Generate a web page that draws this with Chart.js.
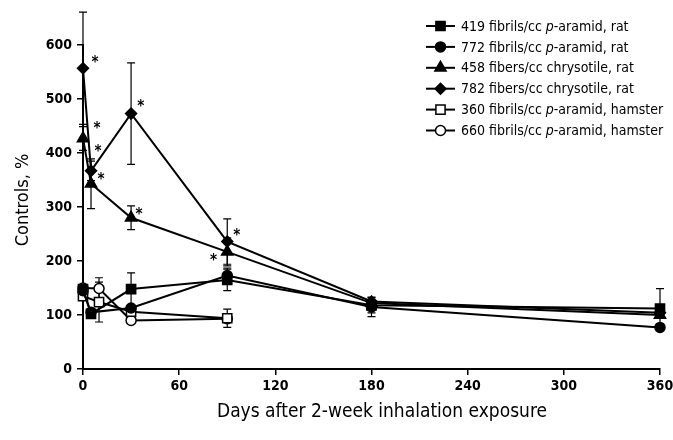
<!DOCTYPE html>
<html>
<head>
<meta charset="utf-8">
<script src="https://cdn.jsdelivr.net/npm/chart.js@4.4.1/dist/chart.umd.min.js"></script>
<style>
  html, body { margin: 0; padding: 0; background: #fff; }
  #wrap { width: 673px; height: 440px; position: relative; }
</style>
</head>
<body>
<div id="wrap"><canvas id="chart"></canvas></div>
<script>
const FONT = "'Liberation Sans Narrow', 'DejaVu Sans Condensed', 'Arial Narrow', sans-serif";

// time points (days after exposure)
const ratDays = [0, 5, 30, 90, 180, 360];
const hamsterDays = [0, 10, 30, 90];
const xTicks = [0, 60, 120, 180, 240, 300, 360];
const yTicks = [0, 100, 200, 300, 400, 500, 600];

// series values (% of controls)
const aramid419Rat = [148, 102, 148, 165, 118, 112];
const aramid772Rat = [145, 105, 113, 173, 115, 77];
const chrys458Rat = [427, 343, 280, 217, 122, 100];
const chrys782Rat = [557, 367, 473, 236, 125, 104];
const aramid360Ham = [135, 124, 106, 94];
const aramid660Ham = [150, 149, 90, 93];

// error bars (half widths), null = not shown
const aramid419RatErr = [null, null, 30, 20, 14, 37];
const aramid772RatErr = [null, null, null, 14, 18, null];
const chrys458RatErr = [22, 46, 22, 26, null, null];
const chrys782RatErr = [104, 18, 94, 42, null, null];
const aramid360HamErr = [null, 37, null, 17];
const aramid660HamErr = [null, 20, null, null];

const labels = [
  ['419 fibrils/cc ', 'p', '-aramid, rat'],
  ['772 fibrils/cc ', 'p', '-aramid, rat'],
  ['458 fibers/cc chrysotile, rat', '', ''],
  ['782 fibers/cc chrysotile, rat', '', ''],
  ['360 fibrils/cc ', 'p', '-aramid, hamster'],
  ['660 fibrils/cc ', 'p', '-aramid, hamster']
];
const xTitle = 'Days after 2-week inhalation exposure';
const yTitle = 'Controls, %';

// significance marks [day, value]
const asterisks = [[7.5, 572], [8.7, 450], [9.3, 407], [11.2, 355], [36, 491], [35, 291], [96, 252], [81.5, 206]];

function series(label, days, vals, errs, style, radius, fill) {
  return {
    label: label.join(''),
    data: days.map((d, i) => ({ x: d, y: vals[i] })),
    errors: errs,
    borderColor: '#000',
    borderWidth: 2,
    pointStyle: style,
    pointRadius: radius,
    pointBackgroundColor: fill,
    pointBorderColor: '#000',
    pointBorderWidth: 1.5,
    tension: 0,
    clip: false
  };
}

const datasets = [
  series(labels[0], ratDays, aramid419Rat, aramid419RatErr, 'rect', 6.5, '#000'),
  series(labels[1], ratDays, aramid772Rat, aramid772RatErr, 'circle', 5, '#000'),
  series(labels[2], ratDays, chrys458Rat, chrys458RatErr, 'triangle', 6.5, '#000'),
  series(labels[3], ratDays, chrys782Rat, chrys782RatErr, 'rectRot', 5.5, '#000'),
  series(labels[4], hamsterDays, aramid360Ham, aramid360HamErr, 'rect', 6.5, '#fff'),
  series(labels[5], hamsterDays, aramid660Ham, aramid660HamErr, 'circle', 5, '#fff')
];

const errorBars = {
  id: 'errorBars',
  beforeDatasetsDraw(chart) {
    const { ctx, scales: { x, y } } = chart;
    ctx.save();
    ctx.strokeStyle = '#000';
    ctx.lineWidth = 1.2;
    chart.data.datasets.forEach(ds => {
      ds.data.forEach((p, i) => {
        const e = ds.errors[i];
        if (e == null) return;
        const px = x.getPixelForValue(p.x);
        const top = y.getPixelForValue(p.y + e);
        const bot = y.getPixelForValue(p.y - e);
        ctx.beginPath();
        ctx.moveTo(px, top); ctx.lineTo(px, bot);
        ctx.moveTo(px - 4, top); ctx.lineTo(px + 4, top);
        ctx.moveTo(px - 4, bot); ctx.lineTo(px + 4, bot);
        ctx.stroke();
      });
    });
    ctx.restore();
  },
  afterDatasetsDraw(chart) {
    const { ctx, scales: { x, y } } = chart;
    ctx.save();
    ctx.fillStyle = '#000';
    ctx.font = 'bold 15px ' + FONT;
    ctx.textAlign = 'center';
    ctx.textBaseline = 'middle';
    asterisks.forEach(([d, v]) => {
      ctx.fillText('*', x.getPixelForValue(d), y.getPixelForValue(v) + 3);
    });
    ctx.restore();
  }
};

// axis titles and legend, drawn on the canvas
const annotations = {
  id: 'annotations',
  afterDraw(chart) {
    const ctx = chart.ctx;
    ctx.save();
    ctx.fillStyle = '#000';
    ctx.textAlign = 'center';
    ctx.textBaseline = 'middle';
    ctx.font = '19px ' + FONT;
    ctx.fillText(xTitle, 382, 412);
    ctx.translate(23, 200);
    ctx.rotate(-Math.PI / 2);
    ctx.font = '18px ' + FONT;
    ctx.fillText(yTitle, 0, 0);
    ctx.restore();

    ctx.save();
    chart.data.datasets.forEach((ds, i) => {
      const cy = 26 + i * 20.9;
      ctx.strokeStyle = '#000';
      ctx.lineWidth = 2;
      ctx.beginPath();
      ctx.moveTo(426, cy); ctx.lineTo(455, cy);
      ctx.stroke();
      ctx.fillStyle = ds.pointBackgroundColor;
      ctx.lineWidth = 1.5;
      Chart.helpers.drawPoint(ctx, { pointStyle: ds.pointStyle, radius: ds.pointRadius, borderWidth: 1.5 }, 440.5, cy);
      ctx.fillStyle = '#000';
      ctx.textBaseline = 'middle';
      ctx.textAlign = 'left';
      let tx = 461;
      labels[i].forEach((t, k) => {
        if (!t) return;
        ctx.font = (k === 1 ? 'italic ' : '') + '14px ' + FONT;
        ctx.fillText(t, tx, cy + 1);
        tx += ctx.measureText(t).width;
      });
    });
    ctx.restore();
  }
};

new Chart(document.getElementById('chart'), {
  type: 'line',
  data: { datasets },
  options: {
    responsive: true,
    maintainAspectRatio: false,
    animation: false,
    layout: { padding: { top: 45, right: 13, left: 0, bottom: 0 } },
    plugins: { legend: { display: false }, tooltip: { enabled: false } },
    scales: {
      x: {
        type: 'linear',
        min: 0, max: 360,
        afterBuildTicks: s => { s.ticks = xTicks.map(v => ({ value: v })); },
        afterFit: s => { s.height = 71; s.paddingLeft = 0; s.paddingRight = 0; },
        border: { color: '#000', width: 2 },
        grid: { drawOnChartArea: false, drawTicks: true, tickLength: 6, color: '#000', lineWidth: 1.5 },
        ticks: { color: '#000', padding: 3, maxRotation: 0, font: { family: FONT, size: 14, weight: 'bold' } },
        title: { display: false }
      },
      y: {
        min: 0, max: 600,
        afterBuildTicks: s => { s.ticks = yTicks.map(v => ({ value: v })); },
        afterFit: s => { s.width = 83; s.paddingTop = 0; s.paddingBottom = 0; },
        border: { color: '#000', width: 2 },
        grid: { drawOnChartArea: false, drawTicks: true, tickLength: 6, color: '#000', lineWidth: 1.5 },
        ticks: { color: '#000', padding: 5, font: { family: FONT, size: 14, weight: 'bold' } },
        title: { display: false }
      }
    }
  },
  plugins: [errorBars, annotations]
});
</script>
</body>
</html>
